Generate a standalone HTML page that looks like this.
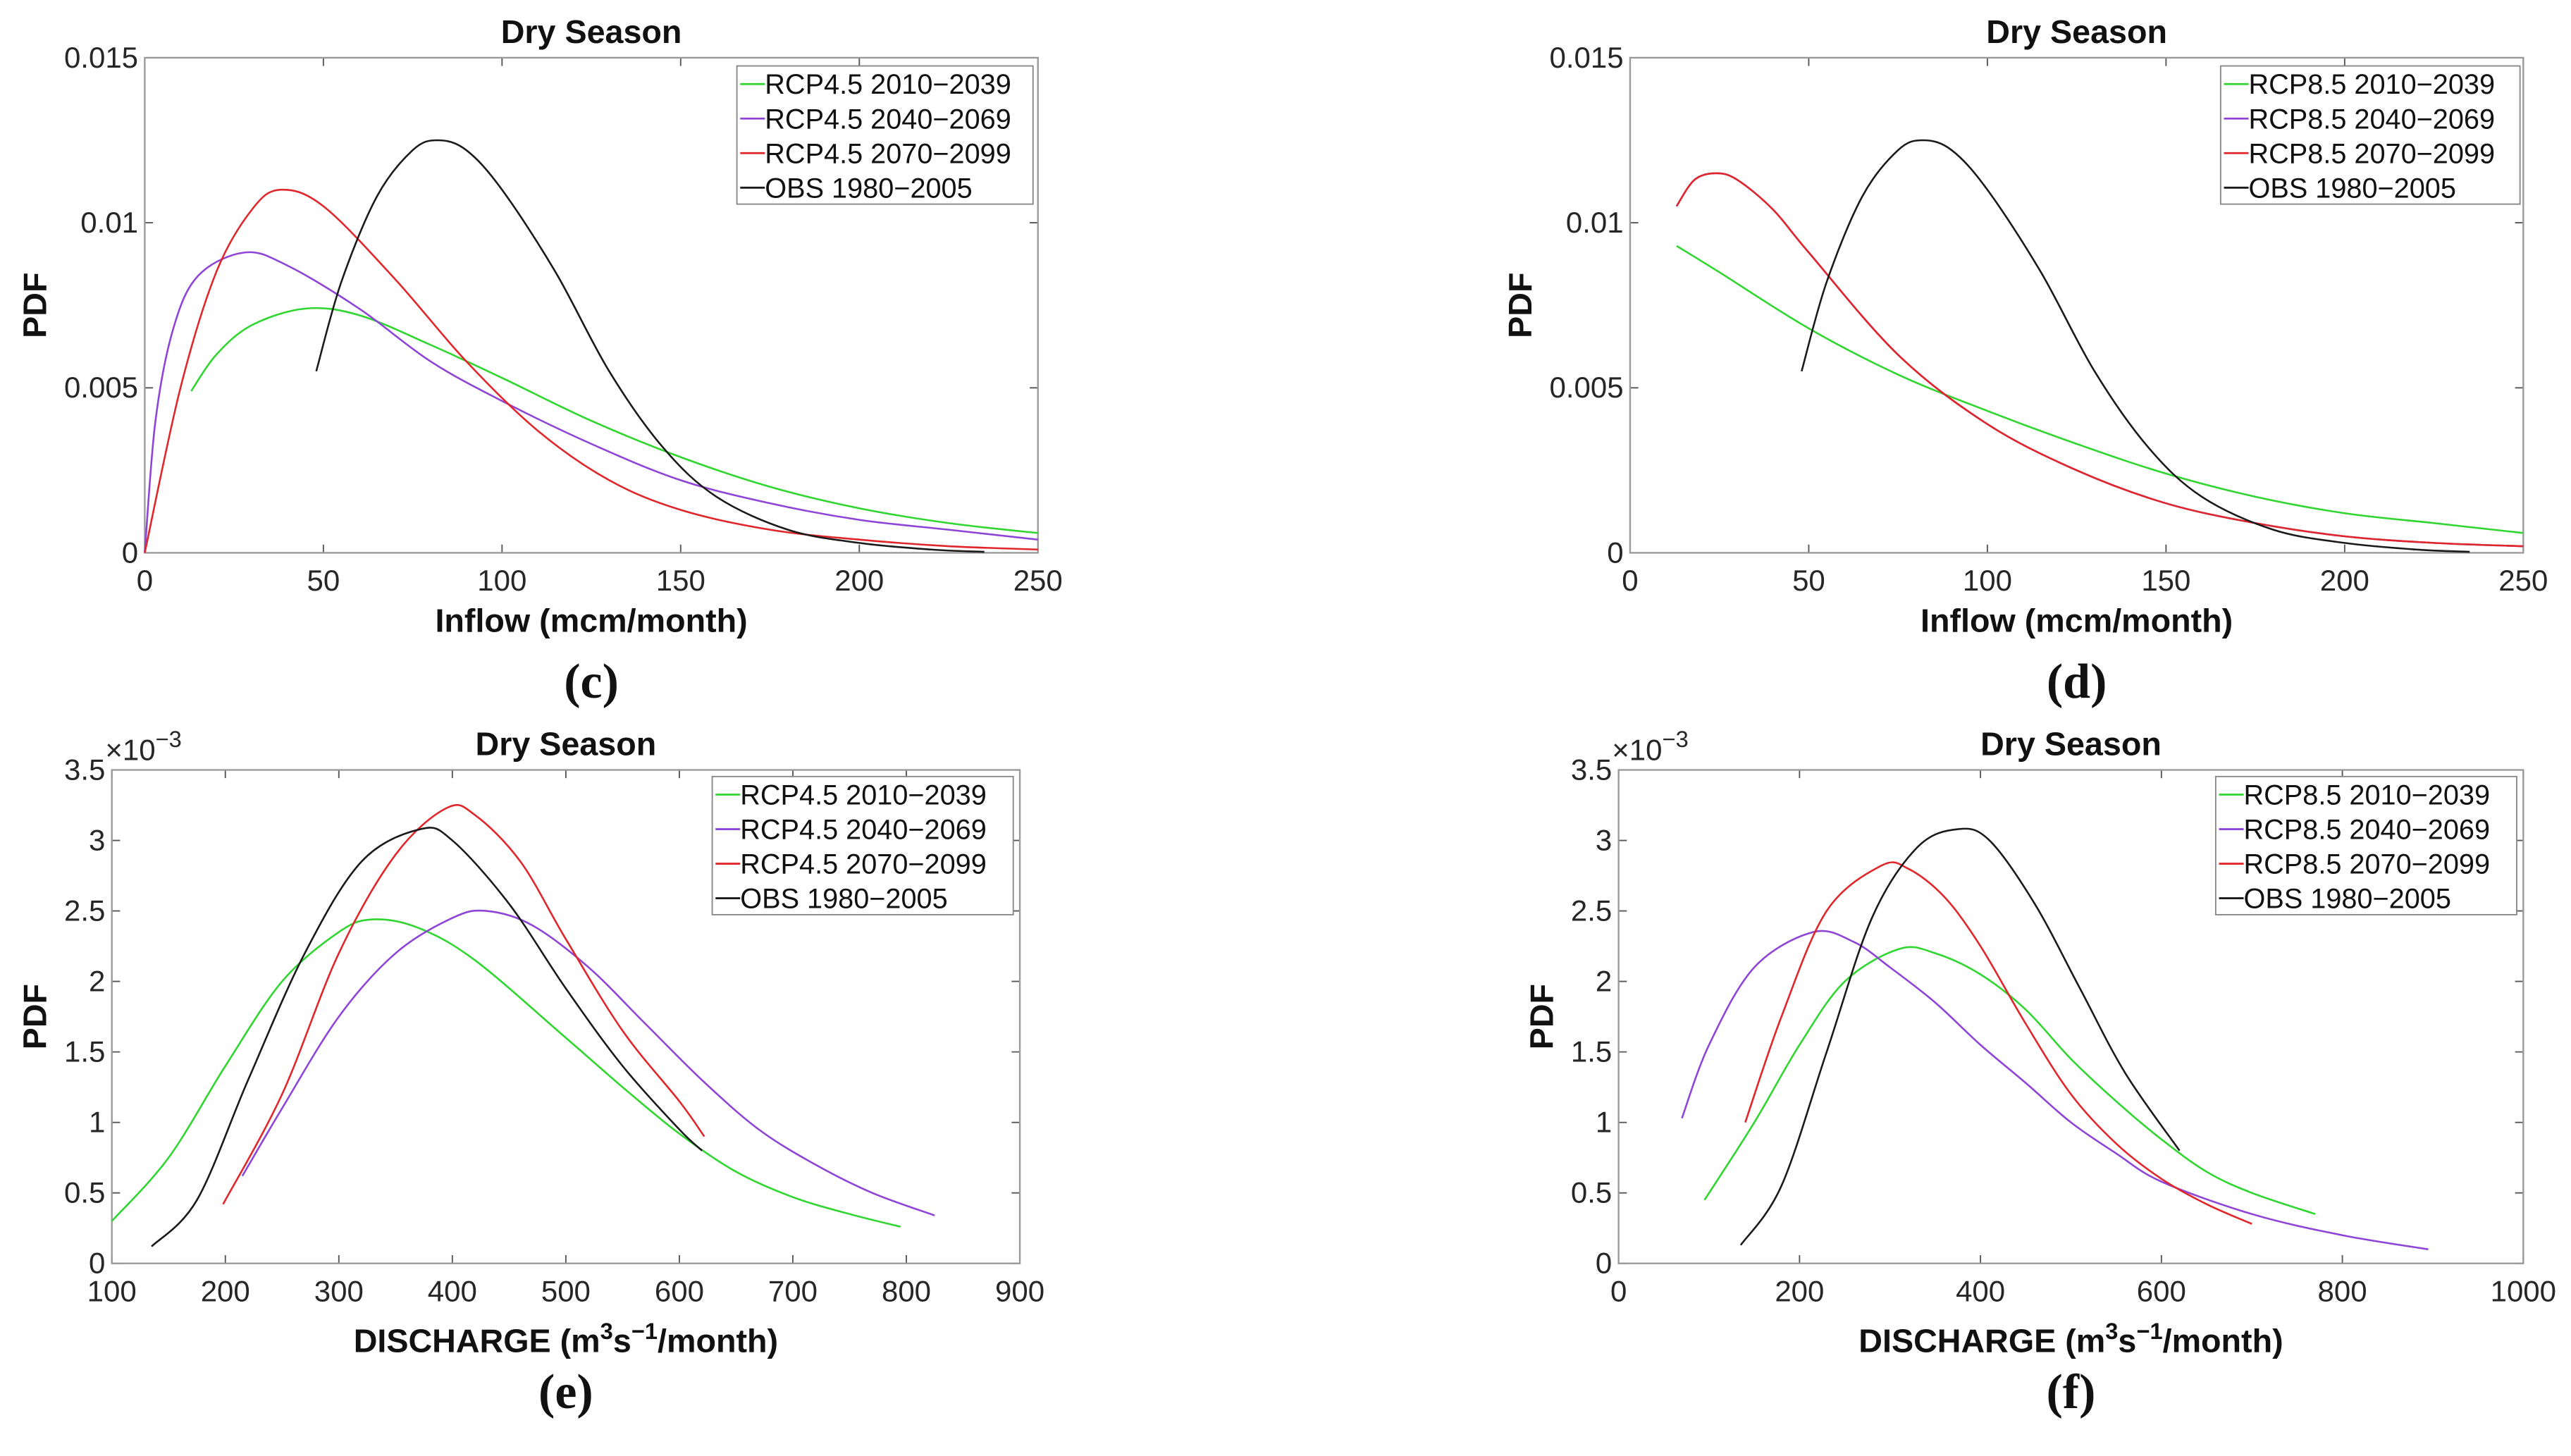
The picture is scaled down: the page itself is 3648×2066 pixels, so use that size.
<!DOCTYPE html>
<html><head><meta charset="utf-8"><style>
html,body{margin:0;padding:0;background:#fff;}
svg{display:block;}
text{font-family:"Liberation Sans",Arial,sans-serif;}
text.serif{font-family:"Liberation Serif",serif;}
</style></head><body>
<svg id="fig" width="3648" height="2066" viewBox="0 0 1563 885" xmlns="http://www.w3.org/2000/svg"></svg>
<script>
// ---- Data ----
const panelLetters = ["(c)", "(d)", "(e)", "(f)"];
const xTicksInflow = [0, 50, 100, 150, 200, 250];
const yTicksInflow = [0, 0.005, 0.01, 0.015];
const yTickLabelsInflow = ["0", "0.005", "0.01", "0.015"];
const xTicksE = [100, 200, 300, 400, 500, 600, 700, 800, 900];
const xTicksF = [0, 200, 400, 600, 800, 1000];
const yTicksDis = [0, 0.5, 1, 1.5, 2, 2.5, 3, 3.5];
const yTickLabelsDis = ["0", "0.5", "1", "1.5", "2", "2.5", "3", "3.5"];
const legendC = ["RCP4.5 2010\u22122039", "RCP4.5 2040\u22122069", "RCP4.5 2070\u22122099", "OBS 1980\u22122005"];
const legendD = ["RCP8.5 2010\u22122039", "RCP8.5 2040\u22122069", "RCP8.5 2070\u22122099", "OBS 1980\u22122005"];

// panel c
const cGreenX = [13, 20, 30, 45, 60, 80, 100, 125, 150, 175, 200, 225, 250];
const cGreenY = [0.0049, 0.0060, 0.0069, 0.0074, 0.0072, 0.0063, 0.0053, 0.0040, 0.0029, 0.0020, 0.00135, 0.0009, 0.0006];
const cPurpleX = [0, 3, 8, 15, 28, 40, 60, 80, 100, 125, 150, 175, 200, 225, 250];
const cPurpleY = [0, 0.004, 0.0068, 0.0084, 0.0091, 0.0087, 0.0074, 0.0058, 0.0046, 0.0033, 0.0022, 0.0015, 0.0010, 0.0007, 0.0004];
const cRedX = [0, 10, 20, 30, 38, 50, 70, 90, 110, 130, 150, 175, 200, 225, 250];
const cRedY = [0, 0.005, 0.0085, 0.0104, 0.0110, 0.0105, 0.0083, 0.0058, 0.0037, 0.0022, 0.0013, 0.0007, 0.0004, 0.0002, 0.0001];
const obsInflowX = [48, 55, 65, 75, 82, 90, 100, 115, 130, 145, 160, 180, 200, 220, 235];
const obsInflowY = [0.0055, 0.0082, 0.0108, 0.0122, 0.0125, 0.0122, 0.0110, 0.0085, 0.0055, 0.0032, 0.0017, 0.0007, 0.0003, 0.0001, 0.00003];
// panel d
const dGreenX = [13, 25, 50, 75, 100, 125, 150, 175, 200, 225, 250];
const dGreenY = [0.0093, 0.0085, 0.0068, 0.0054, 0.0043, 0.0033, 0.0024, 0.0017, 0.0012, 0.0009, 0.0006];
const dPurpleX = [13, 18, 24, 30, 40, 50, 75, 100, 125, 150, 175, 200, 225, 250];
const dPurpleY = [0.0105, 0.0113, 0.0115, 0.0113, 0.0104, 0.0091, 0.0060, 0.0039, 0.0025, 0.0015, 0.0009, 0.0005, 0.0003, 0.0002];
const dRedX = [13, 18, 24, 30, 40, 50, 75, 100, 125, 150, 175, 200, 225, 250];
const dRedY = [0.0105, 0.0113, 0.0115, 0.0113, 0.0104, 0.0091, 0.0060, 0.0039, 0.0025, 0.0015, 0.0009, 0.0005, 0.0003, 0.0002];
// panel e (x1e-3)
const eGreenX = [100, 150, 200, 250, 300, 330, 370, 420, 500, 550, 600, 650, 700, 750, 795];
const eGreenY = [0.30, 0.75, 1.4, 2.0, 2.35, 2.44, 2.38, 2.15, 1.6, 1.25, 0.92, 0.65, 0.47, 0.35, 0.26];
const ePurpleX = [215, 250, 300, 350, 400, 430, 470, 520, 570, 620, 670, 720, 770, 825];
const ePurpleY = [0.62, 1.1, 1.75, 2.2, 2.45, 2.5, 2.4, 2.1, 1.7, 1.3, 0.95, 0.7, 0.5, 0.34];
const eRedX = [198, 250, 300, 350, 395, 420, 460, 500, 550, 600, 622];
const eRedY = [0.42, 1.2, 2.2, 2.9, 3.23, 3.18, 2.85, 2.3, 1.65, 1.15, 0.9];
const eBlackX = [135, 175, 220, 270, 320, 372, 400, 450, 500, 550, 600, 620];
const eBlackY = [0.12, 0.45, 1.3, 2.2, 2.85, 3.08, 3.0, 2.55, 1.95, 1.4, 0.95, 0.8];
// panel f (x1e-3)
const fGreenX = [95, 150, 200, 250, 310, 350, 400, 450, 500, 550, 600, 650, 700, 770];
const fGreenY = [0.45, 1.0, 1.55, 2.0, 2.23, 2.2, 2.05, 1.8, 1.45, 1.15, 0.88, 0.65, 0.5, 0.35];
const fPurpleX = [70, 100, 150, 215, 260, 300, 350, 400, 450, 500, 550, 600, 700, 800, 895];
const fPurpleY = [1.03, 1.55, 2.1, 2.35, 2.28, 2.1, 1.85, 1.55, 1.28, 1.0, 0.78, 0.58, 0.35, 0.2, 0.1];
const fRedX = [140, 180, 230, 290, 320, 360, 400, 450, 500, 550, 600, 650, 700];
const fRedY = [1.0, 1.75, 2.5, 2.82, 2.8, 2.6, 2.25, 1.7, 1.2, 0.85, 0.6, 0.42, 0.28];
const fBlackX = [135, 180, 230, 280, 330, 375, 410, 460, 510, 560, 620];
const fBlackY = [0.13, 0.55, 1.5, 2.45, 2.95, 3.08, 3.0, 2.55, 1.95, 1.35, 0.8];

const COLORS = ["#2fd62f", "#8e44d6", "#e0262a", "#1a1a1a"];
const NS = "http://www.w3.org/2000/svg";
const svg = document.getElementById("fig");
function mk(tag, attrs, parent) {
  const e = document.createElementNS(NS, tag);
  for (const k in attrs) e.setAttribute(k, attrs[k]);
  (parent || svg).appendChild(e);
  return e;
}
function smoothPath(pts) {
  let d = "M" + pts[0][0].toFixed(2) + "," + pts[0][1].toFixed(2);
  for (let i = 0; i < pts.length - 1; i++) {
    const p0 = pts[i - 1] || pts[i], p1 = pts[i], p2 = pts[i + 1], p3 = pts[i + 2] || p2;
    const c1 = [p1[0] + (p2[0] - p0[0]) / 6, p1[1] + (p2[1] - p0[1]) / 6];
    const c2 = [p2[0] - (p3[0] - p1[0]) / 6, p2[1] - (p3[1] - p1[1]) / 6];
    d += "C" + c1[0].toFixed(2) + "," + c1[1].toFixed(2) + " " + c2[0].toFixed(2) + "," + c2[1].toFixed(2) + " " + p2[0].toFixed(2) + "," + p2[1].toFixed(2);
  }
  return d;
}

function panel(cfg) {
  const g = mk("g", {});
  
  
  const L = cfg.box[0], R = cfg.box[1], T = cfg.box[2], B = cfg.box[3];
  const sx = v => L + (v - cfg.xmin) / (cfg.xmax - cfg.xmin) * (R - L);
  const sy = v => B - (v - cfg.ymin) / (cfg.ymax - cfg.ymin) * (B - T);
  cfg.xticks.forEach(t => {
    const x = sx(t);
    const tk = mk("path", {d: `M${x},${B}V${B-5}M${x},${T}V${T+5}`, stroke: "#555", "stroke-width": 0.8}, g);
    
    
    const tl = mk("text", {x: x, y: B + 23, "font-size": 18, "text-anchor": "middle", fill: "#262626"}, g);
    tl.textContent = String(t);
    
    
  });
  cfg.yticks.forEach((t, i) => {
    const y = sy(t);
    const tk = mk("path", {d: `M${L},${y}H${L+5}M${R},${y}H${R-5}`, stroke: "#555", "stroke-width": 0.8}, g);
    
    
    const tl = mk("text", {x: L - 4, y: y + 6, "font-size": 18, "text-anchor": "end", fill: "#262626"}, g);
    tl.textContent = cfg.ylabels[i];
    
    
  });
  const box = mk("rect", {x: L, y: T, width: R - L, height: B - T, fill: "none", stroke: "#999", "stroke-width": 1}, g);
  
  
  if (cfg.exp) {
    const ex = mk("text", {x: L - 4, y: T - 6, "font-size": 18, fill: "#262626"}, g);
    ex.innerHTML = '\u00d710<tspan dy="-8" font-size="14">\u22123</tspan>';
    
    
  }
  cfg.series.forEach((s, i) => {
    const pts = s[0].map((v, j) => [sx(v), sy(s[1][j])]);
    const p = mk("path", {d: smoothPath(pts), fill: "none", stroke: COLORS[s[2]], "stroke-width": 1.1}, g);
    
    
  });
  const tt = mk("text", {x: (L + R) / 2, y: T - 9, "font-size": 20, "font-weight": "bold", "text-anchor": "middle", fill: "#111"}, g);
  tt.textContent = "Dry Season";
  
  
  const xl = mk("text", {x: (L + R) / 2, y: B + cfg.xlabDy, "font-size": 20, "font-weight": "bold", "text-anchor": "middle", fill: "#111"}, g);
  xl.innerHTML = cfg.xlabel;
  
  
  const yl = mk("text", {x: 0, y: 0, "font-size": 20, "font-weight": "bold", "text-anchor": "middle", fill: "#111", transform: `translate(${cfg.ylabX},${(T+B)/2}) rotate(-90)`}, g);
  yl.textContent = "PDF";
  
  
  const pl = mk("text", {x: (L + R) / 2, y: B + 88, "font-size": 30, "font-weight": "bold", "text-anchor": "middle", fill: "#111", "class": "serif"}, g);
  pl.textContent = cfg.letter;
  
  
  const lg = mk("g", {}, g);
  
  
  const lx = cfg.leg[0], ly = cfg.leg[1], lw = cfg.leg[2];
  mk("rect", {x: lx, y: ly, width: lw, height: 84, fill: "#fff", stroke: "#888", "stroke-width": 0.8}, lg);
  cfg.legend.forEach((t, i) => {
    const yy = ly + 11 + i * 21;
    const ln = mk("line", {x1: lx + 2, x2: lx + 17, y1: yy, y2: yy, stroke: COLORS[i], "stroke-width": 1.2}, lg);
    
    
    const tx = mk("text", {x: lx + 17, y: yy + 6, "font-size": 17, fill: "#111"}, lg);
    tx.textContent = t;
    
    
  });
}

const inflowLabel = "Inflow (mcm/month)";
const disLabel = 'DISCHARGE (m<tspan dy="-8" font-size="14">3</tspan><tspan dy="8">s</tspan><tspan dy="-8" font-size="14">\u22121</tspan><tspan dy="8">/month)</tspan>';

panel({name: "panel-c", box: [88, 631, 35, 336], xmin: 0, xmax: 250, ymin: 0, ymax: 0.015,
  xticks: xTicksInflow, yticks: yTicksInflow, ylabels: yTickLabelsInflow, xlabel: inflowLabel, xlabDy: 48, ylabX: 28, letter: panelLetters[0],
  leg: [448, 40, 180], legend: legendC,
  series: [[cGreenX, cGreenY, 0, "green"], [cPurpleX, cPurpleY, 1, "purple"], [cRedX, cRedY, 2, "red"], [obsInflowX, obsInflowY, 3, "obs"]]});
panel({name: "panel-d", box: [991, 1534, 35, 336], xmin: 0, xmax: 250, ymin: 0, ymax: 0.015,
  xticks: xTicksInflow, yticks: yTicksInflow, ylabels: yTickLabelsInflow, xlabel: inflowLabel, xlabDy: 48, ylabX: 931, letter: panelLetters[1],
  leg: [1350, 40, 182], legend: legendD,
  series: [[dGreenX, dGreenY, 0, "green"], [dPurpleX, dPurpleY, 1, "purple"], [dRedX, dRedY, 2, "red"], [obsInflowX, obsInflowY, 3, "obs"]]});
panel({name: "panel-e", box: [68, 620, 468, 768], xmin: 100, xmax: 900, ymin: 0, ymax: 3.5,
  xticks: xTicksE, yticks: yTicksDis, ylabels: yTickLabelsDis, xlabel: disLabel, xlabDy: 54, ylabX: 28, letter: panelLetters[2], exp: true,
  leg: [433, 472, 183], legend: legendC,
  series: [[eGreenX, eGreenY, 0, "green"], [ePurpleX, ePurpleY, 1, "purple"], [eRedX, eRedY, 2, "red"], [eBlackX, eBlackY, 3, "obs"]]});
panel({name: "panel-f", box: [984, 1534, 468, 768], xmin: 0, xmax: 1000, ymin: 0, ymax: 3.5,
  xticks: xTicksF, yticks: yTicksDis, ylabels: yTickLabelsDis, xlabel: disLabel, xlabDy: 54, ylabX: 944, letter: panelLetters[3], exp: true,
  leg: [1347, 472, 183], legend: legendD,
  series: [[fGreenX, fGreenY, 0, "green"], [fPurpleX, fPurpleY, 1, "purple"], [fRedX, fRedY, 2, "red"], [fBlackX, fBlackY, 3, "obs"]]});
</script>
</body></html>
